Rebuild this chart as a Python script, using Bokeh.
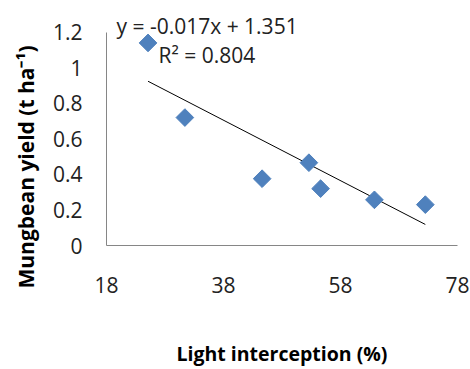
import math
from bokeh.plotting import figure
from bokeh.models import Range1d, FixedTicker, Label, Title
from bokeh.embed import file_html
from bokeh.resources import INLINE

# Data
light_interception = [25.1, 31.4, 44.6, 52.6, 54.6, 63.8, 72.5]
mungbean_yield = [1.14, 0.72, 0.376, 0.466, 0.32, 0.257, 0.23]

slope = -0.017
intercept = 1.351
r_squared = 0.804

x_ticks = [18, 38, 58, 78]
y_ticks = [0, 0.2, 0.4, 0.6, 0.8, 1.0, 1.2]
y_tick_labels = ["0", "0.2", "0.4", "0.6", "0.8", "1", "1.2"]

FONT = "Open Sans"

p = figure(width=470, height=369, output_backend="svg", toolbar_location=None,
           x_range=Range1d(18, 78), y_range=Range1d(0, 1.3),
           min_border_left=105, min_border_right=13, min_border_top=14, min_border_bottom=124)
p.outline_line_color = None
p.grid.visible = False
p.background_fill_color = "white"
p.border_fill_color = "white"

# trendline from the regression equation
x0, x1 = min(light_interception), max(light_interception)
p.line([x0, x1], [slope * x0 + intercept, slope * x1 + intercept], line_color="black", line_width=1)

p.scatter(light_interception, mungbean_yield, marker="square", size=12.5, angle=math.pi / 4,
          fill_color="#4F81BD", line_color="#4F81BD")

for ax in (p.xaxis, p.yaxis):
    ax.axis_line_color = "#868686"
    ax.major_tick_out = 0
    ax.major_tick_in = 0
    ax.minor_tick_out = 0
    ax.minor_tick_in = 0
    ax.major_label_text_font = FONT
    ax.major_label_text_font_size = "21px"
    ax.major_label_text_color = "#222222"

p.yaxis.bounds = (0, 1.2)
p.xaxis.ticker = FixedTicker(ticks=x_ticks)
p.yaxis.ticker = FixedTicker(ticks=y_ticks)
p.yaxis.major_label_overrides = {t: l for t, l in zip(y_ticks, y_tick_labels)}
p.xaxis.major_label_standoff = 31
p.yaxis.major_label_standoff = 24

p.xaxis.axis_label = "Light interception (%)"
p.xaxis.axis_label_text_font = FONT
p.xaxis.axis_label_text_font_style = "bold"
p.xaxis.axis_label_text_font_size = "19.5px"
p.xaxis.axis_label_text_color = "black"
p.xaxis.axis_label_standoff = 44
p.xaxis.axis_label_align = "center"

ytitle = Title(text="Mungbean yield (t ha\u207b\u00b9)", align="left", offset=-43,
               text_font=FONT, text_font_style="bold", text_font_size="21px",
               text_color="black", standoff=19)
p.add_layout(ytitle, "left")

p.add_layout(Label(x=19.7, y=1.238, text="y = -0.017x + 1.351", text_font=FONT,
                   text_font_size="21px", text_color="#222222", text_baseline="middle",
                   text_align="left"))
p.add_layout(Label(x=26.9, y=1.07, text="R\u00b2 = 0.804", text_font=FONT,
                   text_font_size="21px", text_color="#222222", text_baseline="middle",
                   text_align="left"))

open("out.html", "w").write(file_html(p, INLINE))
